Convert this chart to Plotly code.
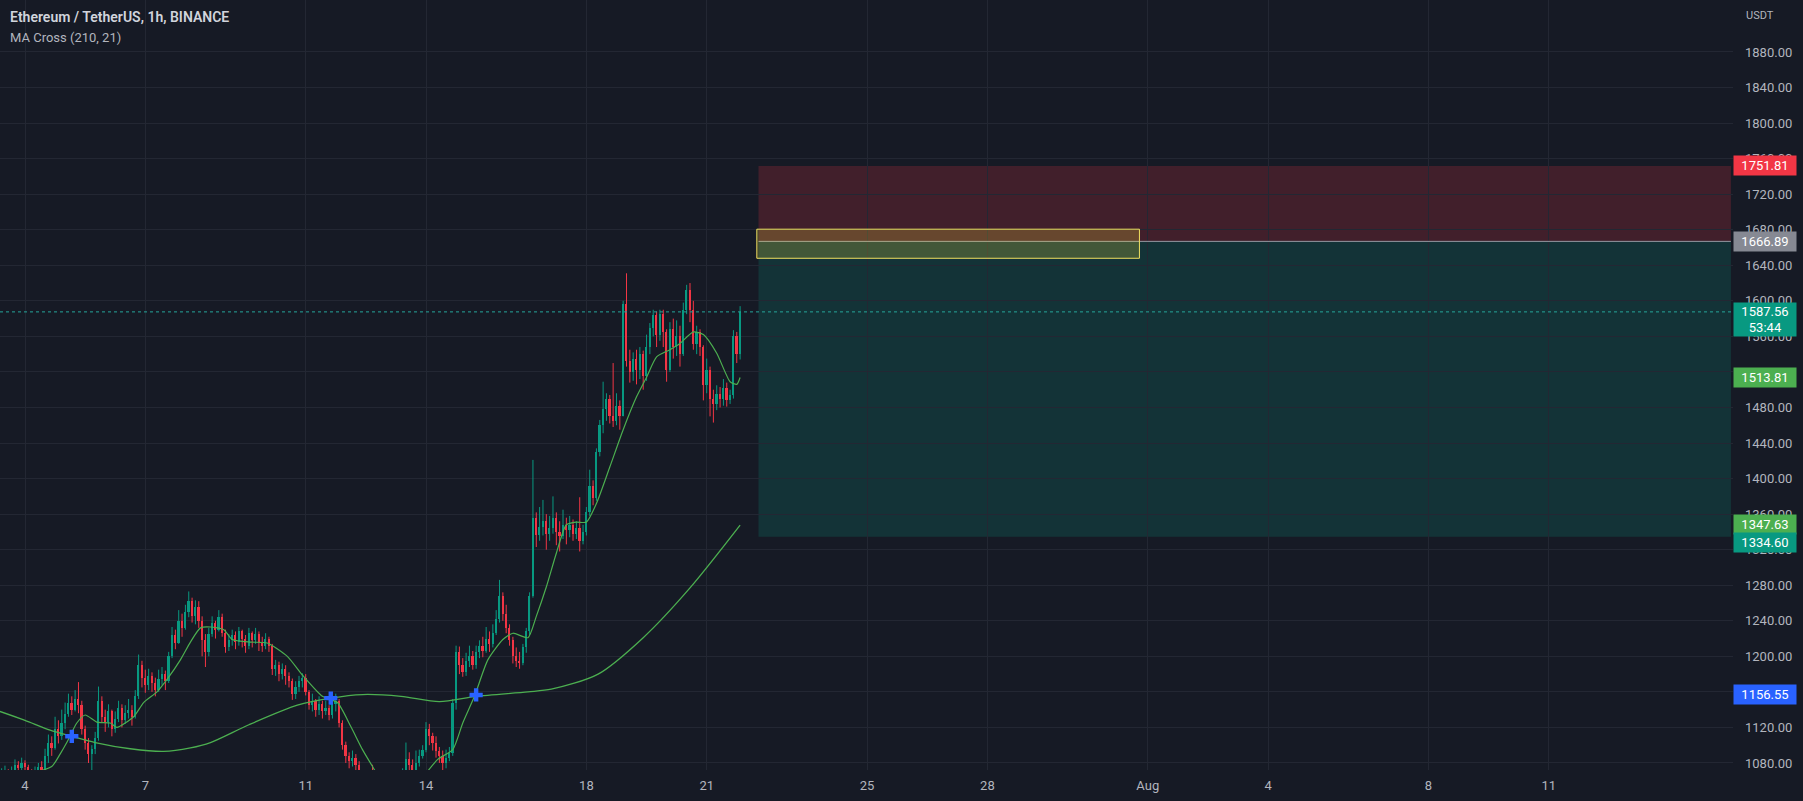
import plotly.graph_objects as go
import pandas as pd

# ---------------- data (2h candles, ETH/USDT) ----------------
candle_start = "2022-07-03 10:00"
open_first = 1064
close = [
    1068, 1072, 1066, 1070, 1078, 1074, 1080, 1076, 1071, 1065,
    1070, 1075, 1072, 1088, 1102, 1097, 1118, 1110, 1125, 1135,
    1148, 1140, 1152, 1145, 1118, 1102, 1090, 1096, 1108, 1150,
    1132, 1126, 1138, 1118, 1130, 1142, 1128, 1136, 1140, 1132,
    1155, 1190, 1176, 1168, 1178, 1170, 1162, 1175, 1180, 1172,
    1200, 1224, 1215, 1240, 1232, 1250, 1262, 1245, 1255, 1240,
    1218, 1205, 1225, 1238, 1230, 1244, 1226, 1210, 1218, 1224,
    1216, 1228, 1220, 1212, 1226, 1218, 1225, 1215, 1212, 1220,
    1212, 1186, 1190, 1180, 1186, 1178, 1172, 1158, 1166, 1172,
    1176, 1160, 1145, 1150, 1140, 1146, 1138, 1142, 1134, 1146,
    1150, 1125, 1100, 1088, 1082, 1086, 1078, 1070, 1058, 1045,
    1062, 1055, 1040, 1030, 1018, 1025, 1010, 1035, 1048, 1055,
    1068, 1085, 1078, 1072, 1080, 1088, 1095, 1118, 1110, 1102,
    1094, 1088, 1080, 1086, 1091, 1148, 1205, 1190, 1182, 1195,
    1200, 1190, 1205, 1212, 1206, 1220, 1214, 1226, 1242, 1268,
    1248, 1232, 1218, 1200, 1195, 1192, 1210, 1228, 1268, 1356,
    1336, 1345, 1352, 1338, 1344, 1356, 1340, 1335, 1348, 1342,
    1348, 1338, 1344, 1330, 1340, 1362, 1392, 1378, 1430, 1460,
    1478, 1490, 1470, 1465, 1482, 1470, 1596, 1532, 1520, 1535,
    1522, 1540, 1515, 1548, 1570, 1584, 1562, 1585, 1565, 1522,
    1568, 1548, 1560, 1540, 1590, 1612, 1590, 1552, 1565, 1548,
    1505, 1522, 1490, 1484, 1495, 1490, 1502, 1488, 1494, 1560, 1540, 1587.56,
]
high = [
    1074, 1077, 1073, 1076, 1084, 1082, 1086, 1083, 1078, 1073,
    1076, 1080, 1082, 1096, 1112, 1110, 1132, 1128, 1140, 1148,
    1158, 1155, 1162, 1171, 1150, 1122, 1108, 1100, 1115, 1166,
    1155, 1140, 1146, 1140, 1138, 1150, 1146, 1145, 1152, 1145,
    1162, 1202, 1195, 1185, 1186, 1182, 1176, 1185, 1188, 1184,
    1205, 1233, 1230, 1252, 1248, 1258, 1273, 1266, 1263, 1262,
    1245, 1225, 1232, 1245, 1240, 1252, 1248, 1230, 1225, 1230,
    1228, 1233, 1230, 1224, 1232, 1228, 1232, 1228, 1222, 1226,
    1222, 1214, 1196, 1194, 1192, 1190, 1182, 1175, 1172, 1178,
    1181, 1180, 1162, 1158, 1152, 1155, 1150, 1150, 1145, 1152,
    1158, 1152, 1128, 1104, 1092, 1094, 1090, 1082, 1072, 1060,
    1070, 1078, 1060, 1046, 1034, 1032, 1028, 1040, 1056, 1066,
    1074, 1103, 1092, 1084, 1094, 1095, 1100, 1126, 1124, 1114,
    1110, 1098, 1094, 1095, 1098, 1152, 1212, 1211, 1198, 1204,
    1212, 1206, 1212, 1218, 1222, 1233, 1228, 1236, 1252, 1286,
    1272, 1258, 1236, 1222, 1210, 1205, 1214, 1232, 1272, 1421,
    1362, 1368, 1376, 1360, 1358, 1380, 1362, 1352, 1365, 1356,
    1358, 1354, 1352, 1379, 1348, 1368, 1410, 1398, 1434, 1466,
    1509, 1496, 1494, 1530, 1496, 1488, 1600, 1631, 1545, 1542,
    1545, 1548, 1544, 1562, 1575, 1590, 1588, 1590, 1590, 1568,
    1576, 1580, 1578, 1572, 1598, 1618, 1620, 1600, 1572, 1568,
    1550, 1535, 1526, 1500, 1505, 1503, 1512, 1508, 1500, 1567, 1565, 1594,
]
low = [
    1062, 1065, 1060, 1064, 1068, 1069, 1072, 1068, 1063, 1058,
    1064, 1066, 1066, 1070, 1080, 1088, 1095, 1102, 1106, 1118,
    1132, 1134, 1138, 1136, 1112, 1095, 1080, 1072, 1090, 1105,
    1125, 1115, 1120, 1110, 1114, 1126, 1120, 1124, 1130, 1122,
    1130, 1152, 1165, 1159, 1162, 1160, 1155, 1160, 1168, 1162,
    1170, 1198, 1208, 1214, 1222, 1230, 1244, 1238, 1236, 1232,
    1200, 1188, 1200, 1222, 1220, 1228, 1222, 1204, 1206, 1212,
    1208, 1212, 1210, 1204, 1208, 1210, 1214, 1206, 1205, 1208,
    1205, 1179, 1178, 1172, 1174, 1168, 1165, 1151, 1152, 1160,
    1165, 1156, 1140, 1138, 1132, 1134, 1130, 1134, 1128, 1130,
    1138, 1120, 1095, 1080, 1074, 1076, 1068, 1062, 1050, 1038,
    1040, 1048, 1034, 1022, 1008, 1012, 1002, 1006, 1030, 1042,
    1056, 1064, 1070, 1064, 1068, 1076, 1085, 1092, 1100, 1094,
    1086, 1080, 1072, 1074, 1082, 1088, 1140, 1180, 1177, 1178,
    1188, 1185, 1186, 1198, 1199, 1204, 1205, 1210, 1224, 1238,
    1240, 1226, 1212, 1192, 1188, 1186, 1190, 1204, 1224, 1266,
    1323, 1330, 1336, 1320, 1330, 1338, 1325, 1318, 1332, 1326,
    1334, 1330, 1332, 1318, 1326, 1336, 1358, 1370, 1375, 1425,
    1451, 1465, 1462, 1458, 1460, 1455, 1470, 1526, 1508, 1510,
    1506, 1512, 1500, 1510, 1540, 1560, 1548, 1555, 1548, 1509,
    1520, 1535, 1538, 1526, 1538, 1585, 1576, 1545, 1540, 1538,
    1488, 1496, 1470, 1463, 1477, 1480, 1482, 1481, 1484, 1490, 1530, 1534,
]

ma21_time = [
    "2022-07-03 09:00", "2022-07-04 03:00", "2022-07-04 16:00", "2022-07-04 21:00",
    "2022-07-05 01:00", "2022-07-05 07:00", "2022-07-05 12:00", "2022-07-05 19:00",
    "2022-07-06 03:00", "2022-07-06 07:00", "2022-07-06 17:00", "2022-07-06 23:00",
    "2022-07-07 07:00", "2022-07-07 13:00", "2022-07-07 21:00", "2022-07-08 03:00",
    "2022-07-08 09:00", "2022-07-08 15:00", "2022-07-08 23:00", "2022-07-09 04:00",
    "2022-07-09 15:00", "2022-07-10 01:00", "2022-07-10 13:00", "2022-07-10 22:00",
    "2022-07-11 10:00", "2022-07-11 19:00", "2022-07-12 03:00", "2022-07-12 10:00",
    "2022-07-12 16:00", "2022-07-12 23:00", "2022-07-13 08:00", "2022-07-13 20:00",
    "2022-07-14 07:00", "2022-07-14 16:00", "2022-07-14 22:00", "2022-07-15 05:00",
    "2022-07-15 13:00", "2022-07-15 22:00", "2022-07-16 04:00", "2022-07-16 13:00",
    "2022-07-16 18:00", "2022-07-17 00:00", "2022-07-17 06:00", "2022-07-17 12:00",
    "2022-07-17 18:00", "2022-07-18 00:00", "2022-07-18 06:00", "2022-07-18 14:00",
    "2022-07-18 22:00", "2022-07-19 06:00", "2022-07-19 12:00", "2022-07-19 18:00",
    "2022-07-20 02:00", "2022-07-20 08:00", "2022-07-20 16:00", "2022-07-20 22:00",
    "2022-07-21 06:00", "2022-07-21 14:00", "2022-07-21 18:00", "2022-07-21 20:00",
]
ma21_value = [
    1066, 1068, 1076, 1090,
    1103, 1125, 1134, 1126,
    1125, 1120, 1132, 1148,
    1160, 1174, 1196, 1216,
    1232, 1233, 1230, 1219,
    1216, 1215, 1200, 1179,
    1155, 1148, 1121, 1095,
    1076, 1055, 1045, 1060,
    1084, 1095, 1125, 1155,
    1196, 1219, 1226, 1221,
    1245, 1278, 1316, 1348,
    1351, 1351, 1372, 1413,
    1455, 1492, 1514, 1537,
    1545, 1552, 1565, 1562,
    1541, 1509, 1506, 1513.81,
]

ma210_time = [
    "2022-07-03 09:00", "2022-07-04 00:00", "2022-07-04 15:00", "2022-07-05 04:00",
    "2022-07-05 18:00", "2022-07-06 15:00", "2022-07-07 11:00", "2022-07-08 03:00",
    "2022-07-08 15:00", "2022-07-09 14:00", "2022-07-10 19:00", "2022-07-11 15:00",
    "2022-07-12 10:00", "2022-07-13 09:00", "2022-07-14 08:00", "2022-07-15 06:00",
    "2022-07-16 13:00", "2022-07-17 03:00", "2022-07-18 07:00", "2022-07-19 10:00",
    "2022-07-20 14:00", "2022-07-21 20:00",
]
ma210_value = [
    1138, 1128, 1117, 1110,
    1103, 1096, 1093, 1097,
    1103, 1123, 1145, 1153,
    1157, 1155, 1149, 1155,
    1160, 1163, 1180, 1221,
    1277, 1347.63,
]

cross_time = ["2022-07-05 04:00", "2022-07-11 15:00", "2022-07-15 06:00"]
cross_value = [1110, 1153, 1156.55]

# short position tool
pos_start = "2022-07-22 07:00"
pos_end = "2022-08-15 13:00"
stop_price = 1751.81
entry_price = 1666.89
target_price = 1334.60
zone_start = "2022-07-22 06:00"
zone_end = "2022-07-31 19:00"
zone_top = 1680.6
zone_bottom = 1647.9

x_tick_dates = ["2022-07-04", "2022-07-07", "2022-07-11", "2022-07-14", "2022-07-18",
                "2022-07-21", "2022-07-25", "2022-07-28", "2022-08-01", "2022-08-04",
                "2022-08-08", "2022-08-11"]
x_tick_text = ["4", "7", "11", "14", "18", "21", "25", "28", "Aug", "4", "8", "11"]
y_ticks = list(range(1080, 1881, 40))

x_range = ["2022-07-03 09:02", "2022-08-15 14:15"]
y_range = [1072.1, 1938.5]

# ---------------- styling ----------------
BG = "#161a25"
GRID = "#232733"
TXT = "#b2b5be"
UP = "#089981"
DOWN = "#f23645"
MA_COLOR = "#4caf50"
FONT = "Roboto"

times = pd.date_range(candle_start, periods=len(close), freq="2h")
opens = [open_first] + close[:-1]
is_up = [c >= o for o, c in zip(opens, close)]
colors = [UP if u else DOWN for u in is_up]
base = [min(o, c) for o, c in zip(opens, close)]
body = [max(abs(c - o), 0.8) for o, c in zip(opens, close)]

fig = go.Figure()

# wicks
for flag, col in ((True, UP), (False, DOWN)):
    wx, wy = [], []
    for t, h, l, u in zip(times, high, low, is_up):
        if u == flag:
            wx += [t, t, None]
            wy += [l, h, None]
    fig.add_trace(go.Scatter(x=wx, y=wy, mode="lines", line=dict(color=col, width=1),
                             hoverinfo="skip", showlegend=False))

# bodies
fig.add_trace(go.Bar(x=times, y=body, base=base, width=2 * 3600 * 1000 * 0.5,
                     marker=dict(color=colors, line=dict(width=0)), showlegend=False))

# moving averages
fig.add_trace(go.Scatter(x=pd.to_datetime(ma210_time), y=ma210_value, mode="lines",
                         line=dict(color=MA_COLOR, width=1.3, shape="spline", smoothing=0.8),
                         showlegend=False))
fig.add_trace(go.Scatter(x=pd.to_datetime(ma21_time), y=ma21_value, mode="lines",
                         line=dict(color=MA_COLOR, width=1.2, shape="spline", smoothing=0.6),
                         showlegend=False))
fig.add_trace(go.Scatter(x=pd.to_datetime(cross_time), y=cross_value, mode="markers",
                         marker=dict(symbol="cross", size=11, color="#2962ff", line=dict(width=0)),
                         showlegend=False))

# position tool
fig.add_shape(type="rect", x0=pos_start, x1=pos_end, y0=entry_price, y1=stop_price,
              fillcolor="rgba(242,54,69,0.2)", line=dict(width=0), layer="below")
fig.add_shape(type="rect", x0=pos_start, x1=pos_end, y0=target_price, y1=entry_price,
              fillcolor="rgba(8,153,129,0.2)", line=dict(width=0), layer="below")
fig.add_shape(type="line", x0=pos_start, x1=pos_end, y0=entry_price, y1=entry_price,
              line=dict(color="#9598a1", width=1))
fig.add_shape(type="rect", x0=zone_start, x1=zone_end, y0=zone_bottom, y1=zone_top,
              fillcolor="rgba(255,235,59,0.2)", line=dict(color="#f0e060", width=1))
# current price dotted line
fig.add_shape(type="line", xref="paper", x0=0, x1=1, y0=close[-1], y1=close[-1],
              line=dict(color="#26a69a", width=1, dash="dot"))

# texts
fig.add_annotation(xref="paper", yref="paper", x=0, y=1, xshift=8, yshift=-17,
                   xanchor="left", yanchor="middle", showarrow=False,
                   text="Ethereum / TetherUS, 1h, BINANCE",
                   font=dict(family=FONT, size=14, color="#d1d4dc", weight=600))
fig.add_annotation(xref="paper", yref="paper", x=0, y=1, xshift=8, yshift=-37,
                   xanchor="left", yanchor="middle", showarrow=False,
                   text="MA Cross (210, 21)", font=dict(family=FONT, size=13, color=TXT))
fig.add_annotation(xref="paper", yref="paper", x=1, y=1, xshift=11, yshift=-15,
                   xanchor="left", yanchor="middle", showarrow=False,
                   text="USDT", font=dict(family=FONT, size=11, color=TXT))

price_labels = [
    (f"{stop_price:.2f}", stop_price, "#f23645", 0),
    (f"{entry_price:.2f}", entry_price, "#868993", 0),
    (f"{ma21_value[-1]:.2f}", ma21_value[-1], "#4caf50", 0),
    (f"{ma210_value[-1]:.2f}", ma210_value[-1], "#4caf50", 1),
    (f"{target_price:.2f}", target_price, "#089981", -6),
    (f"{cross_value[-1]:.2f}", cross_value[-1], "#2962ff", 0),
]
for txt, val, col, ys in price_labels:
    fig.add_annotation(xref="paper", yref="y", x=1, y=val, xanchor="left", yanchor="middle",
                       yshift=ys, showarrow=False, text=txt, bgcolor=col, width=58, height=15,
                       borderpad=2, align="center",
                       font=dict(family=FONT, size=13, color="#ffffff"))
fig.add_annotation(xref="paper", yref="y", x=1, y=close[-1], xanchor="left", yanchor="top",
                   yshift=10, showarrow=False, text=f"{close[-1]:.2f}<br>53:44",
                   bgcolor="#089981", width=58, height=29, borderpad=2, align="center",
                   font=dict(family=FONT, size=13, color="#ffffff"))

fig.update_layout(
    width=1803, height=801,
    margin=dict(l=0, r=70, t=0, b=31),
    paper_bgcolor=BG, plot_bgcolor=BG,
    showlegend=False, bargap=0,
    xaxis=dict(type="date", range=x_range, tickvals=x_tick_dates, ticktext=x_tick_text,
               showgrid=True, gridcolor=GRID, gridwidth=1, zeroline=False, showline=False,
               ticks="", ticklabelstandoff=6, tickfont=dict(family=FONT, size=13, color=TXT)),
    yaxis=dict(side="right", range=y_range, tickvals=y_ticks,
               ticktext=[f"{v:.2f}" for v in y_ticks],
               showgrid=True, gridcolor=GRID, gridwidth=1, zeroline=False, showline=False,
               ticks="", ticklabelstandoff=11, tickfont=dict(family=FONT, size=13, color=TXT)),
)

fig.write_html("out.html")
